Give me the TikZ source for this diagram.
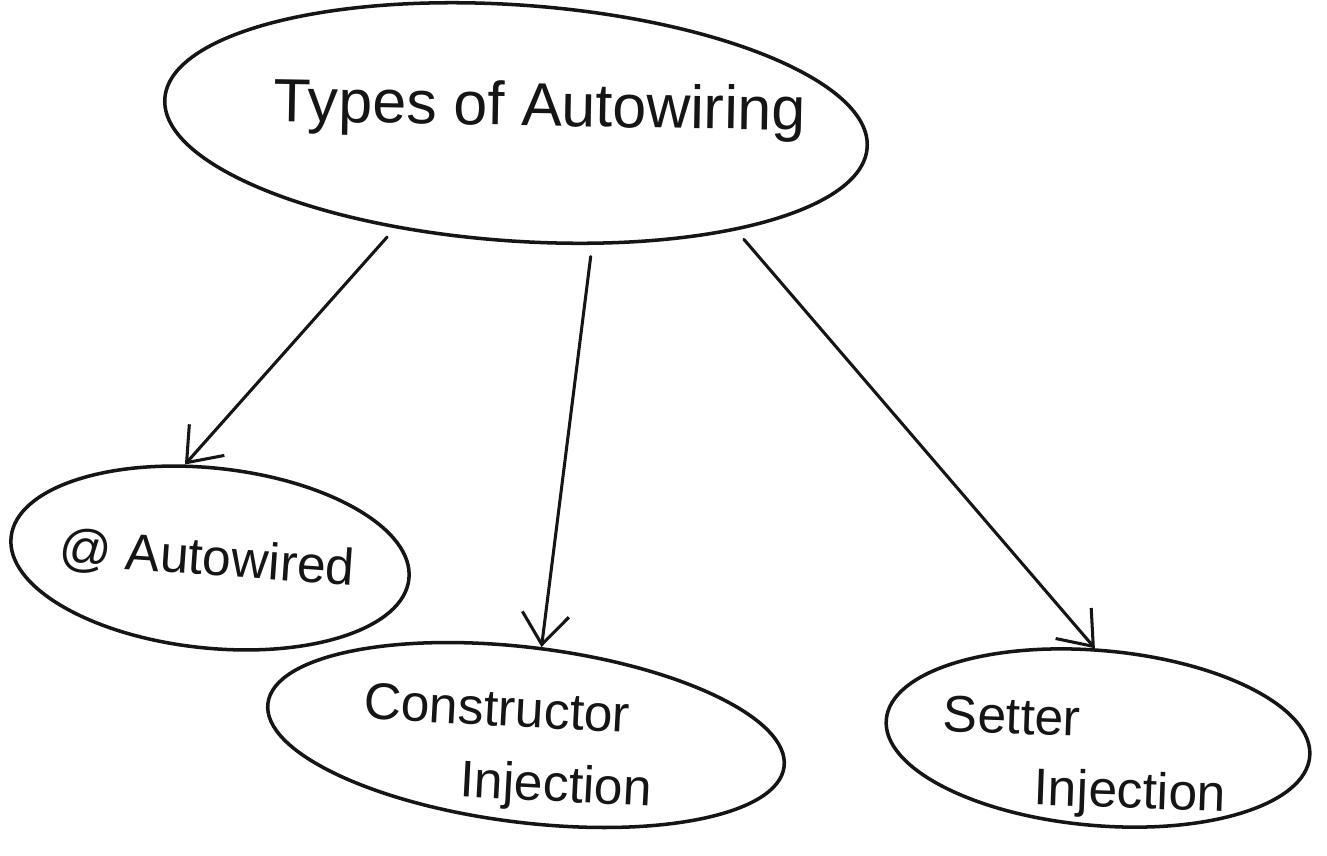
\documentclass[tikz,border=0pt]{standalone}
\usepackage{fontspec}
\setmainfont{Liberation Sans}
\usetikzlibrary{shapes.geometric,arrows.meta}
\definecolor{ink}{HTML}{151515}
\begin{document}
\begin{tikzpicture}[x=0.03cm,y=-0.03cm,
  bubble/.style={draw=ink,line width=3pt,ellipse,inner sep=0pt},
  lbl/.style={text=ink,font=\fontsize{44}{52}\selectfont,inner sep=0pt},
  arr/.style={draw=ink,line width=2.6pt,line cap=round,shorten <=10pt,
    -{Straight Barb[length=26pt,width=40pt,line width=2.6pt]}}]
\fill[white] (0,0) rectangle (1327,855);
\useasboundingbox (0,0) rectangle (1327,855);
\node[bubble,minimum width=21.12cm,minimum height=7.08cm,rotate=-4] (top) at (516,123) {};
\node[bubble,minimum width=12cm,minimum height=5.4cm,rotate=-6] (auto) at (210,558) {};
\node[bubble,minimum width=15.6cm,minimum height=5.25cm,rotate=-7] (cons) at (526,735) {};
\node[bubble,minimum width=12.75cm,minimum height=5.25cm,rotate=-5] (set) at (1098,738) {};
\node[lbl,font=\fontsize{52}{60}\selectfont,rotate=-1] (ttop) at (540,110) {Types of Autowiring};
\node[lbl,rotate=-4] (tauto) at (207,560) {@ Autowired};
\node[lbl,rotate=-3] (tcons1) at (497,708) {Constructor};
\node[lbl,rotate=-3] (tcons2) at (556,788) {Injection};
\node[lbl,rotate=-2] (tset1) at (1012,716) {Setter};
\node[lbl,rotate=-2] (tset2) at (1130,795) {Injection};
\draw[arr] (top.225) -- (auto.111);
\draw[arr] (top.306) -- (cons.87);
\draw[arr] (top.338) -- (set.97);
\end{tikzpicture}
\end{document}
